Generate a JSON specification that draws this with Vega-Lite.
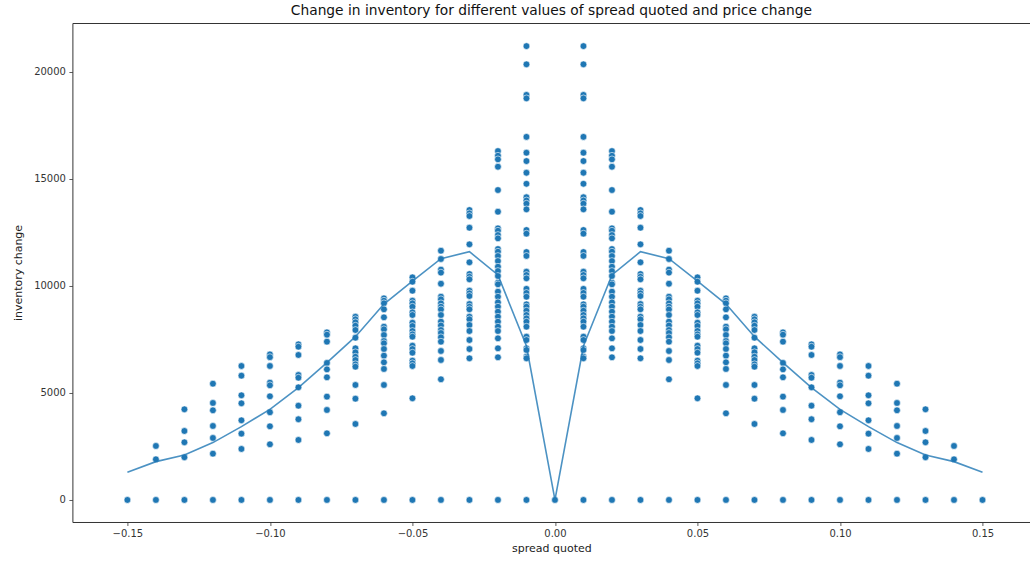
{
  "$schema": "https://vega.github.io/schema/vega-lite/v6.json",
  "width": 958,
  "height": 499,
  "autosize": "none",
  "padding": {"left": 72.4, "top": 23, "right": 0, "bottom": 40},
  "title": {"text": "Change in inventory for different values of spread quoted and price change", "font": "DejaVu Sans", "fontSize": 13.8, "fontWeight": "normal", "color": "#111111", "offset": 5, "anchor": "middle"},
  "config": {
    "view": {"stroke": "#333333", "strokeWidth": 1},
    "axis": {"labelFont": "DejaVu Sans", "labelFontSize": 10, "labelColor": "#333333", "titleFont": "DejaVu Sans", "titleFontSize": 11, "titleFontWeight": "normal", "titleColor": "#222222", "domain": false, "grid": false, "tickColor": "#333333", "tickSize": 3.5, "tickWidth": 0.8, "labelPadding": 3.5}
  },
  "datasets": {
    "pts": [
      {"s": -0.15, "v": 0}, {"s": -0.14, "v": 0}, {"s": -0.13, "v": 0}, {"s": -0.12, "v": 0}, {"s": -0.11, "v": 0}, {"s": -0.10, "v": 0}, {"s": -0.09, "v": 0}, {"s": -0.08, "v": 0}, {"s": -0.07, "v": 0}, {"s": -0.06, "v": 0}, {"s": -0.05, "v": 0}, {"s": -0.04, "v": 0}, {"s": -0.03, "v": 0}, {"s": -0.02, "v": 0}, {"s": -0.01, "v": 0}, {"s": 0.0, "v": 0},
      {"s": 0.15, "v": 0}, {"s": 0.14, "v": 0}, {"s": 0.13, "v": 0}, {"s": 0.12, "v": 0}, {"s": 0.11, "v": 0}, {"s": 0.10, "v": 0}, {"s": 0.09, "v": 0}, {"s": 0.08, "v": 0}, {"s": 0.07, "v": 0}, {"s": 0.06, "v": 0}, {"s": 0.05, "v": 0}, {"s": 0.04, "v": 0}, {"s": 0.03, "v": 0}, {"s": 0.02, "v": 0}, {"s": 0.01, "v": 0},

      {"s": -0.14, "v": 2522}, {"s": -0.14, "v": 1900},
      {"s": -0.13, "v": 4235}, {"s": -0.13, "v": 3222}, {"s": -0.13, "v": 2694}, {"s": -0.13, "v": 1994},
      {"s": -0.12, "v": 5431}, {"s": -0.12, "v": 4530}, {"s": -0.12, "v": 4189}, {"s": -0.12, "v": 3456}, {"s": -0.12, "v": 2895}, {"s": -0.12, "v": 2162},
      {"s": -0.11, "v": 6258}, {"s": -0.11, "v": 5806}, {"s": -0.11, "v": 4889}, {"s": -0.11, "v": 4515}, {"s": -0.11, "v": 3721}, {"s": -0.11, "v": 3098}, {"s": -0.11, "v": 2382},
      {"s": -0.10, "v": 6800}, {"s": -0.10, "v": 6670}, {"s": -0.10, "v": 6258}, {"s": -0.10, "v": 5478}, {"s": -0.10, "v": 5356}, {"s": -0.10, "v": 4843}, {"s": -0.10, "v": 4096}, {"s": -0.10, "v": 3442}, {"s": -0.10, "v": 2601},
      {"s": -0.09, "v": 7271}, {"s": -0.09, "v": 7159}, {"s": -0.09, "v": 6772}, {"s": -0.09, "v": 5838}, {"s": -0.09, "v": 5711}, {"s": -0.09, "v": 5263}, {"s": -0.09, "v": 4404}, {"s": -0.09, "v": 3769}, {"s": -0.09, "v": 2802},
      {"s": -0.08, "v": 7830}, {"s": -0.08, "v": 7720}, {"s": -0.08, "v": 7394}, {"s": -0.08, "v": 6400}, {"s": -0.08, "v": 6100}, {"s": -0.08, "v": 5730}, {"s": -0.08, "v": 4826}, {"s": -0.08, "v": 4203}, {"s": -0.08, "v": 3113},
      {"s": -0.07, "v": 8560}, {"s": -0.07, "v": 8439}, {"s": -0.07, "v": 8299}, {"s": -0.07, "v": 8140}, {"s": -0.07, "v": 7939}, {"s": -0.07, "v": 7579}, {"s": -0.07, "v": 7084}, {"s": -0.07, "v": 6898}, {"s": -0.07, "v": 6692}, {"s": -0.07, "v": 6538}, {"s": -0.07, "v": 6337}, {"s": -0.07, "v": 6225}, {"s": -0.07, "v": 5371}, {"s": -0.07, "v": 4731}, {"s": -0.07, "v": 3549},
      {"s": -0.06, "v": 9419}, {"s": -0.06, "v": 9307}, {"s": -0.06, "v": 9186}, {"s": -0.06, "v": 8906}, {"s": -0.06, "v": 8532}, {"s": -0.06, "v": 8093}, {"s": -0.06, "v": 7972}, {"s": -0.06, "v": 7706}, {"s": -0.06, "v": 7425}, {"s": -0.06, "v": 7318}, {"s": -0.06, "v": 7052}, {"s": -0.06, "v": 6739}, {"s": -0.06, "v": 6431}, {"s": -0.06, "v": 6118}, {"s": -0.06, "v": 5371}, {"s": -0.06, "v": 4049},
      {"s": -0.05, "v": 10400}, {"s": -0.05, "v": 10195}, {"s": -0.05, "v": 9774}, {"s": -0.05, "v": 9307}, {"s": -0.05, "v": 9186}, {"s": -0.05, "v": 9027}, {"s": -0.05, "v": 8766}, {"s": -0.05, "v": 8640}, {"s": -0.05, "v": 8280}, {"s": -0.05, "v": 8126}, {"s": -0.05, "v": 7892}, {"s": -0.05, "v": 7738}, {"s": -0.05, "v": 7626}, {"s": -0.05, "v": 7206}, {"s": -0.05, "v": 7052}, {"s": -0.05, "v": 6879}, {"s": -0.05, "v": 6505}, {"s": -0.05, "v": 6384}, {"s": -0.05, "v": 6258}, {"s": -0.05, "v": 4749},
      {"s": -0.04, "v": 11642}, {"s": -0.04, "v": 11255}, {"s": -0.04, "v": 10760}, {"s": -0.04, "v": 10620}, {"s": -0.04, "v": 10100}, {"s": -0.04, "v": 9494}, {"s": -0.04, "v": 9373}, {"s": -0.04, "v": 9186}, {"s": -0.04, "v": 9027}, {"s": -0.04, "v": 8900}, {"s": -0.04, "v": 8640}, {"s": -0.04, "v": 8327}, {"s": -0.04, "v": 8150}, {"s": -0.04, "v": 7939}, {"s": -0.04, "v": 7800}, {"s": -0.04, "v": 7600}, {"s": -0.04, "v": 7393}, {"s": -0.04, "v": 6958}, {"s": -0.04, "v": 6538}, {"s": -0.04, "v": 5637},
      {"s": -0.03, "v": 13543}, {"s": -0.03, "v": 13389}, {"s": -0.03, "v": 13263}, {"s": -0.03, "v": 12717}, {"s": -0.03, "v": 11941}, {"s": -0.03, "v": 11101}, {"s": -0.03, "v": 10554}, {"s": -0.03, "v": 10428}, {"s": -0.03, "v": 10307}, {"s": -0.03, "v": 9774}, {"s": -0.03, "v": 9653}, {"s": -0.03, "v": 9527}, {"s": -0.03, "v": 9153}, {"s": -0.03, "v": 9027}, {"s": -0.03, "v": 8906}, {"s": -0.03, "v": 8560}, {"s": -0.03, "v": 8439}, {"s": -0.03, "v": 8173}, {"s": -0.03, "v": 7892}, {"s": -0.03, "v": 7472}, {"s": -0.03, "v": 7052}, {"s": -0.03, "v": 6617},
      {"s": -0.02, "v": 16298}, {"s": -0.02, "v": 16079}, {"s": -0.02, "v": 15911}, {"s": -0.02, "v": 15565}, {"s": -0.02, "v": 14477}, {"s": -0.02, "v": 13464}, {"s": -0.02, "v": 12688}, {"s": -0.02, "v": 12576}, {"s": -0.02, "v": 12376}, {"s": -0.02, "v": 12221}, {"s": -0.02, "v": 11722}, {"s": -0.02, "v": 11596}, {"s": -0.02, "v": 11395}, {"s": -0.02, "v": 11161}, {"s": -0.02, "v": 10895}, {"s": -0.02, "v": 10694}, {"s": -0.02, "v": 10461}, {"s": -0.02, "v": 10148}, {"s": -0.02, "v": 10073}, {"s": -0.02, "v": 9728}, {"s": -0.02, "v": 9494}, {"s": -0.02, "v": 9232}, {"s": -0.02, "v": 9027}, {"s": -0.02, "v": 8794}, {"s": -0.02, "v": 8560}, {"s": -0.02, "v": 8327}, {"s": -0.02, "v": 8093}, {"s": -0.02, "v": 7892}, {"s": -0.02, "v": 7551}, {"s": -0.02, "v": 7084}, {"s": -0.02, "v": 6664},
      {"s": -0.01, "v": 21200}, {"s": -0.01, "v": 20350}, {"s": -0.01, "v": 18920}, {"s": -0.01, "v": 18760}, {"s": -0.01, "v": 16960}, {"s": -0.01, "v": 16220}, {"s": -0.01, "v": 15830}, {"s": -0.01, "v": 15285}, {"s": -0.01, "v": 14770}, {"s": -0.01, "v": 14140}, {"s": -0.01, "v": 13990}, {"s": -0.01, "v": 13840}, {"s": -0.01, "v": 13576}, {"s": -0.01, "v": 12609}, {"s": -0.01, "v": 12440}, {"s": -0.01, "v": 11580}, {"s": -0.01, "v": 11400}, {"s": -0.01, "v": 10662}, {"s": -0.01, "v": 10508}, {"s": -0.01, "v": 10353}, {"s": -0.01, "v": 9860}, {"s": -0.01, "v": 9670}, {"s": -0.01, "v": 9494}, {"s": -0.01, "v": 9139}, {"s": -0.01, "v": 9027}, {"s": -0.01, "v": 8840}, {"s": -0.01, "v": 8640}, {"s": -0.01, "v": 8485}, {"s": -0.01, "v": 8327}, {"s": -0.01, "v": 8093}, {"s": -0.01, "v": 7626}, {"s": -0.01, "v": 7472}, {"s": -0.01, "v": 7084}, {"s": -0.01, "v": 7005}, {"s": -0.01, "v": 6692}, {"s": -0.01, "v": 6617},

      {"s": 0.14, "v": 2522}, {"s": 0.14, "v": 1900},
      {"s": 0.13, "v": 4235}, {"s": 0.13, "v": 3222}, {"s": 0.13, "v": 2694}, {"s": 0.13, "v": 1994},
      {"s": 0.12, "v": 5431}, {"s": 0.12, "v": 4530}, {"s": 0.12, "v": 4189}, {"s": 0.12, "v": 3456}, {"s": 0.12, "v": 2895}, {"s": 0.12, "v": 2162},
      {"s": 0.11, "v": 6258}, {"s": 0.11, "v": 5806}, {"s": 0.11, "v": 4889}, {"s": 0.11, "v": 4515}, {"s": 0.11, "v": 3721}, {"s": 0.11, "v": 3098}, {"s": 0.11, "v": 2382},
      {"s": 0.10, "v": 6800}, {"s": 0.10, "v": 6670}, {"s": 0.10, "v": 6258}, {"s": 0.10, "v": 5478}, {"s": 0.10, "v": 5356}, {"s": 0.10, "v": 4843}, {"s": 0.10, "v": 4096}, {"s": 0.10, "v": 3442}, {"s": 0.10, "v": 2601},
      {"s": 0.09, "v": 7271}, {"s": 0.09, "v": 7159}, {"s": 0.09, "v": 6772}, {"s": 0.09, "v": 5838}, {"s": 0.09, "v": 5711}, {"s": 0.09, "v": 5263}, {"s": 0.09, "v": 4404}, {"s": 0.09, "v": 3769}, {"s": 0.09, "v": 2802},
      {"s": 0.08, "v": 7830}, {"s": 0.08, "v": 7720}, {"s": 0.08, "v": 7394}, {"s": 0.08, "v": 6400}, {"s": 0.08, "v": 6100}, {"s": 0.08, "v": 5730}, {"s": 0.08, "v": 4826}, {"s": 0.08, "v": 4203}, {"s": 0.08, "v": 3113},
      {"s": 0.07, "v": 8560}, {"s": 0.07, "v": 8439}, {"s": 0.07, "v": 8299}, {"s": 0.07, "v": 8140}, {"s": 0.07, "v": 7939}, {"s": 0.07, "v": 7579}, {"s": 0.07, "v": 7084}, {"s": 0.07, "v": 6898}, {"s": 0.07, "v": 6692}, {"s": 0.07, "v": 6538}, {"s": 0.07, "v": 6337}, {"s": 0.07, "v": 6225}, {"s": 0.07, "v": 5371}, {"s": 0.07, "v": 4731}, {"s": 0.07, "v": 3549},
      {"s": 0.06, "v": 9419}, {"s": 0.06, "v": 9307}, {"s": 0.06, "v": 9186}, {"s": 0.06, "v": 8906}, {"s": 0.06, "v": 8532}, {"s": 0.06, "v": 8093}, {"s": 0.06, "v": 7972}, {"s": 0.06, "v": 7706}, {"s": 0.06, "v": 7425}, {"s": 0.06, "v": 7318}, {"s": 0.06, "v": 7052}, {"s": 0.06, "v": 6739}, {"s": 0.06, "v": 6431}, {"s": 0.06, "v": 6118}, {"s": 0.06, "v": 5371}, {"s": 0.06, "v": 4049},
      {"s": 0.05, "v": 10400}, {"s": 0.05, "v": 10195}, {"s": 0.05, "v": 9774}, {"s": 0.05, "v": 9307}, {"s": 0.05, "v": 9186}, {"s": 0.05, "v": 9027}, {"s": 0.05, "v": 8766}, {"s": 0.05, "v": 8640}, {"s": 0.05, "v": 8280}, {"s": 0.05, "v": 8126}, {"s": 0.05, "v": 7892}, {"s": 0.05, "v": 7738}, {"s": 0.05, "v": 7626}, {"s": 0.05, "v": 7206}, {"s": 0.05, "v": 7052}, {"s": 0.05, "v": 6879}, {"s": 0.05, "v": 6505}, {"s": 0.05, "v": 6384}, {"s": 0.05, "v": 6258}, {"s": 0.05, "v": 4749},
      {"s": 0.04, "v": 11642}, {"s": 0.04, "v": 11255}, {"s": 0.04, "v": 10760}, {"s": 0.04, "v": 10620}, {"s": 0.04, "v": 10100}, {"s": 0.04, "v": 9494}, {"s": 0.04, "v": 9373}, {"s": 0.04, "v": 9186}, {"s": 0.04, "v": 9027}, {"s": 0.04, "v": 8900}, {"s": 0.04, "v": 8640}, {"s": 0.04, "v": 8327}, {"s": 0.04, "v": 8150}, {"s": 0.04, "v": 7939}, {"s": 0.04, "v": 7800}, {"s": 0.04, "v": 7600}, {"s": 0.04, "v": 7393}, {"s": 0.04, "v": 6958}, {"s": 0.04, "v": 6538}, {"s": 0.04, "v": 5637},
      {"s": 0.03, "v": 13543}, {"s": 0.03, "v": 13389}, {"s": 0.03, "v": 13263}, {"s": 0.03, "v": 12717}, {"s": 0.03, "v": 11941}, {"s": 0.03, "v": 11101}, {"s": 0.03, "v": 10554}, {"s": 0.03, "v": 10428}, {"s": 0.03, "v": 10307}, {"s": 0.03, "v": 9774}, {"s": 0.03, "v": 9653}, {"s": 0.03, "v": 9527}, {"s": 0.03, "v": 9153}, {"s": 0.03, "v": 9027}, {"s": 0.03, "v": 8906}, {"s": 0.03, "v": 8560}, {"s": 0.03, "v": 8439}, {"s": 0.03, "v": 8173}, {"s": 0.03, "v": 7892}, {"s": 0.03, "v": 7472}, {"s": 0.03, "v": 7052}, {"s": 0.03, "v": 6617},
      {"s": 0.02, "v": 16298}, {"s": 0.02, "v": 16079}, {"s": 0.02, "v": 15911}, {"s": 0.02, "v": 15565}, {"s": 0.02, "v": 14477}, {"s": 0.02, "v": 13464}, {"s": 0.02, "v": 12688}, {"s": 0.02, "v": 12576}, {"s": 0.02, "v": 12376}, {"s": 0.02, "v": 12221}, {"s": 0.02, "v": 11722}, {"s": 0.02, "v": 11596}, {"s": 0.02, "v": 11395}, {"s": 0.02, "v": 11161}, {"s": 0.02, "v": 10895}, {"s": 0.02, "v": 10694}, {"s": 0.02, "v": 10461}, {"s": 0.02, "v": 10148}, {"s": 0.02, "v": 10073}, {"s": 0.02, "v": 9728}, {"s": 0.02, "v": 9494}, {"s": 0.02, "v": 9232}, {"s": 0.02, "v": 9027}, {"s": 0.02, "v": 8794}, {"s": 0.02, "v": 8560}, {"s": 0.02, "v": 8327}, {"s": 0.02, "v": 8093}, {"s": 0.02, "v": 7892}, {"s": 0.02, "v": 7551}, {"s": 0.02, "v": 7084}, {"s": 0.02, "v": 6664},
      {"s": 0.01, "v": 21200}, {"s": 0.01, "v": 20350}, {"s": 0.01, "v": 18920}, {"s": 0.01, "v": 18760}, {"s": 0.01, "v": 16960}, {"s": 0.01, "v": 16220}, {"s": 0.01, "v": 15830}, {"s": 0.01, "v": 15285}, {"s": 0.01, "v": 14770}, {"s": 0.01, "v": 14140}, {"s": 0.01, "v": 13990}, {"s": 0.01, "v": 13840}, {"s": 0.01, "v": 13576}, {"s": 0.01, "v": 12609}, {"s": 0.01, "v": 12440}, {"s": 0.01, "v": 11580}, {"s": 0.01, "v": 11400}, {"s": 0.01, "v": 10662}, {"s": 0.01, "v": 10508}, {"s": 0.01, "v": 10353}, {"s": 0.01, "v": 9860}, {"s": 0.01, "v": 9670}, {"s": 0.01, "v": 9494}, {"s": 0.01, "v": 9139}, {"s": 0.01, "v": 9027}, {"s": 0.01, "v": 8840}, {"s": 0.01, "v": 8640}, {"s": 0.01, "v": 8485}, {"s": 0.01, "v": 8327}, {"s": 0.01, "v": 8093}, {"s": 0.01, "v": 7626}, {"s": 0.01, "v": 7472}, {"s": 0.01, "v": 7084}, {"s": 0.01, "v": 7005}, {"s": 0.01, "v": 6692}, {"s": 0.01, "v": 6617}
    ],
    "line": [
      {"s": -0.15, "v": 1293}, {"s": -0.14, "v": 1790}, {"s": -0.13, "v": 2100}, {"s": -0.12, "v": 2680}, {"s": -0.11, "v": 3424}, {"s": -0.10, "v": 4234}, {"s": -0.09, "v": 5250}, {"s": -0.08, "v": 6412}, {"s": -0.07, "v": 7627}, {"s": -0.06, "v": 9153}, {"s": -0.05, "v": 10227}, {"s": -0.04, "v": 11270}, {"s": -0.03, "v": 11597}, {"s": -0.02, "v": 10508}, {"s": -0.01, "v": 7192}, {"s": 0.0, "v": 0},
      {"s": 0.01, "v": 7192}, {"s": 0.02, "v": 10508}, {"s": 0.03, "v": 11597}, {"s": 0.04, "v": 11270}, {"s": 0.05, "v": 10227}, {"s": 0.06, "v": 9153}, {"s": 0.07, "v": 7627}, {"s": 0.08, "v": 6412}, {"s": 0.09, "v": 5250}, {"s": 0.10, "v": 4234}, {"s": 0.11, "v": 3424}, {"s": 0.12, "v": 2680}, {"s": 0.13, "v": 2100}, {"s": 0.14, "v": 1790}, {"s": 0.15, "v": 1293}
    ]
  },
  "encoding": {
    "x": {"field": "s", "type": "quantitative", "scale": {"domain": [-0.1693, 0.1668], "nice": false, "zero": false},
          "axis": {"values": [-0.15, -0.1, -0.05, 0, 0.05, 0.1, 0.15], "format": ".2f", "title": "spread quoted", "titlePadding": 4}},
    "y": {"field": "v", "type": "quantitative", "scale": {"domain": [-1030, 22280], "nice": false, "zero": false},
          "axis": {"values": [0, 5000, 10000, 15000, 20000], "format": "d", "title": "inventory change", "titlePadding": 10}}
  },
  "layer": [
    {"data": {"name": "pts"}, "mark": {"type": "point", "shape": "circle", "filled": true, "size": 46, "color": "#1f77b4", "opacity": 1, "stroke": "#ffffff", "strokeWidth": 0.6, "strokeOpacity": 1}},
    {"data": {"name": "line"}, "mark": {"type": "line", "color": "#1f77b4", "strokeWidth": 1.6, "opacity": 0.8}}
  ]
}
